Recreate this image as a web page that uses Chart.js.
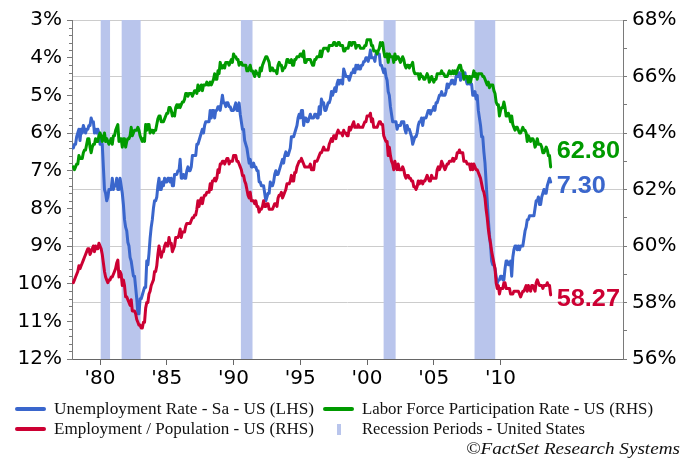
<!DOCTYPE html>
<html><head><meta charset="utf-8">
<script src="https://cdn.jsdelivr.net/npm/chart.js@4"></script>
<style>
html,body{margin:0;padding:0;background:#fff;}
#wrap{position:relative;width:682px;height:458px;overflow:hidden;}
canvas{position:absolute;left:0;top:0;}
.lg{position:absolute;font-family:"Liberation Serif","Times New Roman",serif;font-size:17px;color:#111;white-space:nowrap;line-height:20px;transform-origin:0 50%;}
.it{font-style:italic;}
.sw{position:absolute;height:4px;border-radius:2px;}
</style></head><body>
<div id="wrap">
<canvas id="c" width="682" height="458"></canvas>
<div class="sw" id="sw0" style="left:15px;top:407px;width:31px;"></div>
<div class="lg" id="lg0" data-w="260" style="left:54px;top:399px;"></div>
<div class="sw" id="sw1" style="left:323px;top:407px;width:31px;"></div>
<div class="lg" id="lg1" data-w="291" style="left:362px;top:399px;"></div>
<div class="sw" id="sw2" style="left:15px;top:427px;width:31px;"></div>
<div class="lg" id="lg2" data-w="260" style="left:54px;top:419px;"></div>
<div class="sw" id="sw3" style="left:337px;top:424px;width:4px;height:11px;border-radius:0;"></div>
<div class="lg" id="lg3" data-w="223" style="left:362px;top:419px;"></div>
<div class="lg it" id="lg4" data-w="214" style="left:466px;top:439px;"></div>
</div>
<script>
// ---------- data ----------
const startYear = 1978; // Jan 1978, monthly
const seriesNames = ["Unemployment Rate - Sa - US (LHS)", "Labor Force Participation Rate - US (RHS)", "Employment / Population - US (RHS)"];
const recessionName = "Recession Periods - United States";
const sourceText = "\u00A9FactSet Research Systems";
const lastLabels = ["7.30", "62.80", "58.27"];

const unemp = [
6.4,6.3,6.3,6.1,6.0,5.9,6.2,5.9,6.0,5.8,5.9,6.0,
5.9,5.9,5.8,5.8,5.6,5.7,5.7,6.0,5.9,6.0,5.9,6.0,
6.3,6.3,6.3,6.9,7.5,7.6,7.8,7.7,7.5,7.5,7.5,7.2,
7.5,7.4,7.4,7.2,7.5,7.5,7.2,7.4,7.6,7.9,8.3,8.5,
8.6,8.9,9.0,9.3,9.4,9.6,9.8,9.8,10.1,10.4,10.8,10.8,
10.4,10.4,10.3,10.2,10.1,10.1,9.4,9.5,9.2,8.8,8.5,8.3,
8.0,7.8,7.8,7.7,7.4,7.2,7.5,7.5,7.3,7.4,7.2,7.3,
7.3,7.2,7.2,7.3,7.2,7.4,7.4,7.1,7.1,7.1,7.0,7.0,
6.7,7.2,7.2,7.1,7.2,7.2,7.0,6.9,7.0,7.0,6.9,6.6,
6.6,6.6,6.6,6.3,6.3,6.2,6.1,6.0,5.9,6.0,5.8,5.7,
5.7,5.7,5.7,5.4,5.6,5.4,5.4,5.6,5.4,5.4,5.3,5.3,
5.4,5.2,5.0,5.2,5.2,5.3,5.2,5.2,5.3,5.3,5.4,5.4,
5.4,5.3,5.2,5.4,5.4,5.2,5.5,5.7,5.9,5.9,6.2,6.3,
6.4,6.6,6.8,6.7,6.9,6.9,6.8,6.9,6.9,7.0,7.0,7.3,
7.3,7.4,7.4,7.4,7.6,7.8,7.7,7.6,7.6,7.3,7.4,7.4,
7.3,7.1,7.0,7.1,7.1,7.0,6.9,6.8,6.7,6.8,6.6,6.5,
6.6,6.6,6.5,6.4,6.1,6.1,6.1,6.0,5.9,5.8,5.6,5.5,
5.6,5.4,5.4,5.8,5.6,5.6,5.7,5.7,5.6,5.5,5.6,5.6,
5.6,5.5,5.5,5.6,5.6,5.3,5.5,5.1,5.2,5.2,5.4,5.4,
5.3,5.2,5.2,5.1,4.9,5.0,4.9,4.8,4.9,4.7,4.6,4.7,
4.6,4.6,4.7,4.3,4.4,4.5,4.5,4.5,4.6,4.5,4.4,4.4,
4.3,4.4,4.2,4.3,4.2,4.3,4.3,4.2,4.2,4.1,4.1,4.0,
4.0,4.1,4.0,3.8,4.0,4.0,4.0,4.1,3.9,3.9,3.9,3.9,
4.2,4.2,4.3,4.4,4.3,4.5,4.6,4.9,5.0,5.3,5.5,5.7,
5.7,5.7,5.7,5.9,5.8,5.8,5.8,5.7,5.7,5.7,5.9,6.0,
5.8,5.9,5.9,6.0,6.1,6.3,6.2,6.1,6.1,6.0,5.8,5.7,
5.7,5.6,5.8,5.6,5.6,5.6,5.5,5.4,5.4,5.5,5.4,5.4,
5.3,5.4,5.2,5.2,5.1,5.0,5.0,4.9,5.0,5.0,5.0,4.9,
4.7,4.8,4.7,4.7,4.6,4.6,4.7,4.7,4.5,4.4,4.5,4.4,
4.6,4.5,4.4,4.5,4.4,4.6,4.7,4.6,4.7,4.7,4.7,5.0,
5.0,4.9,5.1,5.0,5.4,5.6,5.8,6.1,6.1,6.5,6.8,7.3,
7.8,8.3,8.7,9.0,9.4,9.5,9.5,9.6,9.8,10.0,9.9,9.9,
9.8,9.8,9.9,9.9,9.6,9.4,9.4,9.5,9.5,9.4,9.8,9.3,
9.1,9.0,9.0,9.1,9.0,9.1,9.0,9.0,9.0,8.8,8.6,8.5,
8.3,8.3,8.2,8.2,8.2,8.2,8.2,8.0,7.8,7.8,7.7,7.9,
7.9,7.7,7.6,7.5,7.6,7.6,7.4,7.3,7.2,7.3];

const lfpr = [
62.8,62.7,62.8,62.9,62.9,63.2,63.1,63.1,63.1,63.3,63.4,63.4,
63.6,63.8,63.8,63.5,63.3,63.5,63.6,63.6,63.8,63.7,63.7,63.9,
64.0,63.9,63.7,63.8,64.0,63.7,63.8,63.7,63.6,63.7,63.8,63.6,
63.9,63.9,64.1,64.2,64.3,63.7,63.8,63.8,63.5,63.8,63.8,63.5,
63.7,63.8,63.8,63.9,64.2,63.9,64.0,64.1,64.1,64.1,64.2,64.1,
63.9,63.8,63.7,63.8,63.7,64.3,64.1,64.3,64.3,64.0,64.1,64.1,
64.0,64.1,64.1,64.3,64.5,64.6,64.6,64.4,64.4,64.4,64.5,64.6,
64.7,64.7,64.9,64.9,64.8,64.6,64.7,64.6,64.9,65.0,64.9,65.0,
64.9,65.0,65.1,65.1,65.2,65.4,65.4,65.3,65.4,65.4,65.4,65.3,
65.4,65.5,65.5,65.4,65.7,65.5,65.6,65.7,65.5,65.7,65.7,65.7,
65.8,65.7,65.7,65.8,65.7,65.8,65.9,66.1,65.9,65.9,66.2,66.1,
66.5,66.3,66.3,66.4,66.3,66.5,66.5,66.5,66.4,66.5,66.6,66.5,
66.8,66.7,66.7,66.6,66.6,66.4,66.5,66.5,66.4,66.4,66.4,66.4,
66.2,66.2,66.3,66.4,66.2,66.2,66.1,66.0,66.2,66.1,66.1,66.0,
66.3,66.2,66.4,66.5,66.6,66.7,66.7,66.6,66.5,66.2,66.3,66.3,
66.2,66.2,66.2,66.1,66.4,66.5,66.4,66.4,66.2,66.3,66.3,66.4,
66.6,66.6,66.5,66.5,66.6,66.4,66.4,66.6,66.6,66.7,66.7,66.7,
66.8,66.8,66.7,66.9,66.5,66.5,66.6,66.6,66.6,66.6,66.5,66.4,
66.4,66.6,66.6,66.7,66.7,66.7,66.9,66.7,66.9,67.0,67.0,67.0,
67.0,66.9,67.1,67.1,67.1,67.1,67.2,67.2,67.1,67.1,67.2,67.2,
67.1,67.1,67.1,66.9,66.9,67.0,67.0,67.0,67.2,67.2,67.1,67.2,
67.2,67.2,67.0,67.1,67.1,67.1,67.0,67.0,67.0,67.0,67.1,67.1,
67.3,67.3,67.3,67.3,67.1,67.1,66.9,66.9,66.9,66.8,66.9,67.0,
67.2,67.1,67.2,66.9,66.7,66.7,66.8,66.5,66.8,66.7,66.7,66.7,
66.5,66.8,66.6,66.7,66.7,66.6,66.5,66.6,66.7,66.6,66.4,66.3,
66.4,66.4,66.3,66.4,66.4,66.5,66.2,66.1,66.1,66.1,66.1,65.9,
66.1,66.0,66.0,65.9,65.9,66.0,66.1,66.0,65.8,65.9,66.0,65.9,
65.8,65.9,65.9,66.1,66.1,66.1,66.1,66.2,66.1,66.1,66.0,66.0,
66.0,66.1,66.2,66.1,66.1,66.2,66.1,66.2,66.1,66.2,66.3,66.4,
66.4,66.2,66.2,65.9,66.0,66.0,66.0,65.8,66.0,65.8,66.0,66.0,
66.2,66.0,66.1,65.9,66.1,66.1,66.1,66.1,66.0,66.0,65.9,65.8,
65.7,65.8,65.6,65.7,65.7,65.7,65.5,65.4,65.1,65.0,65.0,64.6,
64.8,64.9,64.9,65.1,64.9,64.6,64.6,64.7,64.6,64.4,64.6,64.3,
64.2,64.1,64.2,64.2,64.1,64.0,64.0,64.1,64.2,64.1,64.1,64.0,
63.7,63.9,63.8,63.7,63.8,63.8,63.7,63.5,63.6,63.8,63.6,63.6,
63.6,63.5,63.3,63.3,63.4,63.5,63.4,63.2,63.2,62.8];

const epop = [
58.7,58.8,58.9,59.0,59.1,59.3,59.2,59.3,59.4,59.5,59.6,59.7,
59.8,59.9,59.9,59.7,59.8,59.9,60.0,59.8,60.0,59.9,59.9,60.1,
60.0,59.9,59.7,59.4,59.1,58.9,58.8,58.7,58.8,58.8,58.9,58.9,
59.0,59.1,59.2,59.4,59.5,58.9,59.1,59.0,58.6,58.8,58.6,58.2,
58.2,58.1,58.0,57.9,58.1,57.7,57.7,57.7,57.6,57.4,57.3,57.2,
57.2,57.1,57.1,57.3,57.3,57.8,58.0,58.0,58.3,58.4,58.6,58.7,
58.8,59.1,59.1,59.3,59.7,60.0,59.8,59.6,59.8,59.8,60.0,60.1,
60.0,60.0,60.3,60.1,60.1,59.8,59.9,60.0,60.3,60.3,60.3,60.4,
60.6,60.3,60.5,60.5,60.5,60.7,60.8,60.8,60.8,60.8,60.9,61.0,
61.0,61.1,61.1,61.3,61.6,61.4,61.6,61.7,61.5,61.7,61.8,61.8,
61.9,61.9,61.9,62.2,62.0,62.3,62.3,62.4,62.3,62.4,62.7,62.6,
62.9,62.9,63.0,63.0,62.9,63.0,63.1,63.1,62.9,63.0,63.0,63.0,
63.2,63.2,63.2,63.0,63.0,62.9,62.8,62.7,62.5,62.5,62.3,62.2,
62.0,61.8,61.7,61.9,61.6,61.6,61.6,61.5,61.6,61.4,61.4,61.2,
61.3,61.3,61.4,61.6,61.4,61.4,61.5,61.5,61.3,61.3,61.3,61.3,
61.4,61.5,61.5,61.4,61.7,61.8,61.8,61.9,61.7,61.8,61.9,62.0,
62.2,62.2,62.2,62.3,62.5,62.3,62.3,62.6,62.6,62.8,62.9,63.0,
63.0,63.1,63.0,62.9,62.8,62.8,62.8,62.8,62.8,62.9,62.7,62.7,
62.7,63.0,63.0,63.0,63.1,63.2,63.3,63.3,63.4,63.5,63.4,63.4,
63.4,63.4,63.6,63.7,63.8,63.7,63.9,63.9,63.8,64.0,64.1,64.0,
64.0,64.0,63.9,64.1,64.0,64.0,63.9,63.9,64.2,64.1,64.2,64.3,
64.4,64.2,64.2,64.2,64.3,64.2,64.2,64.2,64.2,64.3,64.4,64.4,
64.6,64.6,64.6,64.7,64.4,64.5,64.2,64.2,64.2,64.2,64.3,64.4,
64.4,64.3,64.3,63.9,63.8,63.7,63.7,63.2,63.5,63.2,63.0,62.9,
62.7,63.0,62.8,62.7,62.9,62.7,62.7,62.7,62.8,62.7,62.5,62.4,
62.5,62.5,62.4,62.4,62.3,62.3,62.1,62.1,62.0,62.1,62.3,62.2,
62.3,62.3,62.2,62.3,62.3,62.4,62.5,62.4,62.3,62.3,62.5,62.4,
62.4,62.4,62.4,62.7,62.8,62.7,62.8,63.0,62.9,62.8,62.7,62.8,
62.9,62.9,63.0,63.0,63.0,63.1,63.0,63.1,63.1,63.3,63.3,63.4,
63.3,63.3,63.3,63.0,63.0,63.0,62.9,62.9,62.9,62.7,62.9,62.7,
62.9,62.8,62.7,62.7,62.6,62.5,62.4,62.2,62.0,61.9,61.7,61.3,
61.0,60.6,60.3,60.1,59.8,59.6,59.4,59.2,58.7,58.5,58.6,58.3,
58.5,58.5,58.5,58.7,58.7,58.5,58.5,58.5,58.5,58.3,58.3,58.3,
58.4,58.4,58.4,58.4,58.4,58.3,58.2,58.3,58.4,58.4,58.5,58.6,
58.4,58.6,58.5,58.4,58.6,58.6,58.5,58.4,58.7,58.8,58.7,58.6,
58.6,58.6,58.5,58.6,58.6,58.6,58.7,58.6,58.6,58.27];

// recession periods (decimal years, as drawn)
const recStart = [1980.05, 1981.62, 1990.55, 2001.24, 2008.05];
const recEnd   = [1980.75, 1983.04, 1991.42, 2002.14, 2009.60];

// axis ticks
const xTickYears  = [1980, 1985, 1990, 1995, 2000, 2005, 2010];
const xTickLabels = ["'80", "'85", "'90", "'95", "'00", "'05", "'10"];
const xMin = 1977.9, xMax = 2019.17;
const leftMin = 3, leftMax = 12, leftStep = 1, leftMinorStep = 0.2;
const rightMin = 56, rightMax = 68, rightStep = 1;

// ---------- styles ----------
const COL = {blue:'#3a66cc', green:'#009a00', red:'#cc0033', rec:'#b9c5ec', grid:'#cccccc', axis:'#7a7a7a'};
const tickFont = {family:'"DejaVu Sans", "Liberation Sans", Arial, sans-serif', size:20};
const labelDy = [11, -9, 11.5];

// legend text
const lgTexts = [seriesNames[0], seriesNames[1], seriesNames[2], recessionName, sourceText];
lgTexts.forEach((t,i)=>{ document.getElementById('lg'+i).textContent = t; });
document.getElementById('sw0').style.background = COL.blue;
document.getElementById('sw1').style.background = COL.green;
document.getElementById('sw2').style.background = COL.red;
document.getElementById('sw3').style.background = COL.rec;
document.querySelectorAll('.lg').forEach(el=>{
  const w = el.getBoundingClientRect().width;
  const target = +el.dataset.w;
  if (w > 0) el.style.transform = 'scaleX(' + (target / w) + ')';
});

const toPts = arr => arr.map((v,i)=>({x: startYear + i/12, y: v}));

const bandsPlugin = {
  id:'bands',
  beforeDatasetsDraw(chart){
    const {ctx, chartArea:{top,bottom}, scales:{x}} = chart;
    ctx.save(); ctx.fillStyle = COL.rec;
    recStart.forEach((s,i)=>{
      const a = x.getPixelForValue(s), b = x.getPixelForValue(recEnd[i]);
      ctx.fillRect(a, top, b - a, bottom - top);
    });
    ctx.restore();
  }
};
const minorTicksPlugin = {
  id:'minorTicks',
  afterDraw(chart){
    const {ctx, scales:{y}} = chart;
    ctx.save(); ctx.strokeStyle = COL.axis; ctx.lineWidth = 1;
    const n = Math.round((leftMax-leftMin)/leftMinorStep);
    for (let k=1;k<n;k++){
      const v = leftMin + k*leftMinorStep;
      if (Math.abs(v-Math.round(v))<1e-6) continue;
      const py = Math.round(y.getPixelForValue(v)) + 0.5;
      ctx.beginPath(); ctx.moveTo(y.right-3, py); ctx.lineTo(y.right, py); ctx.stroke();
    }
    ctx.restore();
  }
};
const endLabelsPlugin = {
  id:'endLabels',
  afterDatasetsDraw(chart){
    const {ctx} = chart;
    chart.data.datasets.forEach((ds,i)=>{
      const meta = chart.getDatasetMeta(i);
      const pt = meta.data[meta.data.length-1];
      ctx.save();
      ctx.font = 'bold 23px "Liberation Sans", Arial, sans-serif';
      ctx.fillStyle = ds.borderColor;
      ctx.textBaseline = 'alphabetic';
      ctx.translate(pt.x + 6, pt.y + labelDy[i]);
      ctx.scale(1.1, 1);
      ctx.fillText(lastLabels[i], 0, 0);
      ctx.restore();
    });
  }
};

new Chart(document.getElementById('c'), {
  type:'line',
  data:{datasets:[
    {label:seriesNames[0], data:toPts(unemp), yAxisID:'y',  borderColor:COL.blue,  order:3},
    {label:seriesNames[1], data:toPts(lfpr),  yAxisID:'y1', borderColor:COL.green, order:2},
    {label:seriesNames[2], data:toPts(epop),  yAxisID:'y1', borderColor:COL.red,   order:1}
  ]},
  options:{
    responsive:false, animation:false, devicePixelRatio:1,
    elements:{point:{radius:0}, line:{borderWidth:3, tension:0, borderJoinStyle:'round', borderCapStyle:'round'}},
    layout:{padding:{top:20, left:0, right:0, bottom:0}},
    plugins:{legend:{display:false}, tooltip:{enabled:false}},
    scales:{
      x:{type:'linear', min:xMin, max:xMax, bounds:'data',
        afterBuildTicks:s=>{ s.ticks = xTickYears.map(v=>({value:v})); },
        afterFit:s=>{ s.height = 99; },
        ticks:{callback:(v,i)=>xTickLabels[i], font:tickFont, color:'#000', padding:2, maxRotation:0, autoSkip:false},
        grid:{drawOnChartArea:false, tickLength:6, color:'#666'},
        border:{color:'#666'}},
      y:{position:'left', reverse:true, min:leftMin, max:leftMax,
        afterFit:s=>{ s.width = 72; },
        ticks:{stepSize:leftStep, autoSkip:false, callback:v=>v+'%', font:tickFont, color:'#000', padding:5},
        grid:{drawOnChartArea:false, tickLength:5, color:COL.axis},
        border:{color:COL.axis}},
      y1:{position:'right', min:rightMin, max:rightMax,
        afterFit:s=>{ s.width = 59; },
        ticks:{stepSize:rightStep, autoSkip:false, callback:v=>(Math.round(v)%2===0 ? v+'%' : ''), font:tickFont, color:'#000', padding:5},
        grid:{color:c=>(c.tick && Math.round(c.tick.value)%2===0) ? COL.grid : 'rgba(0,0,0,0)', tickColor:COL.axis, tickLength:4},
        border:{color:COL.axis}}
    }
  },
  plugins:[bandsPlugin, minorTicksPlugin, endLabelsPlugin]
});
</script>
</body></html>
